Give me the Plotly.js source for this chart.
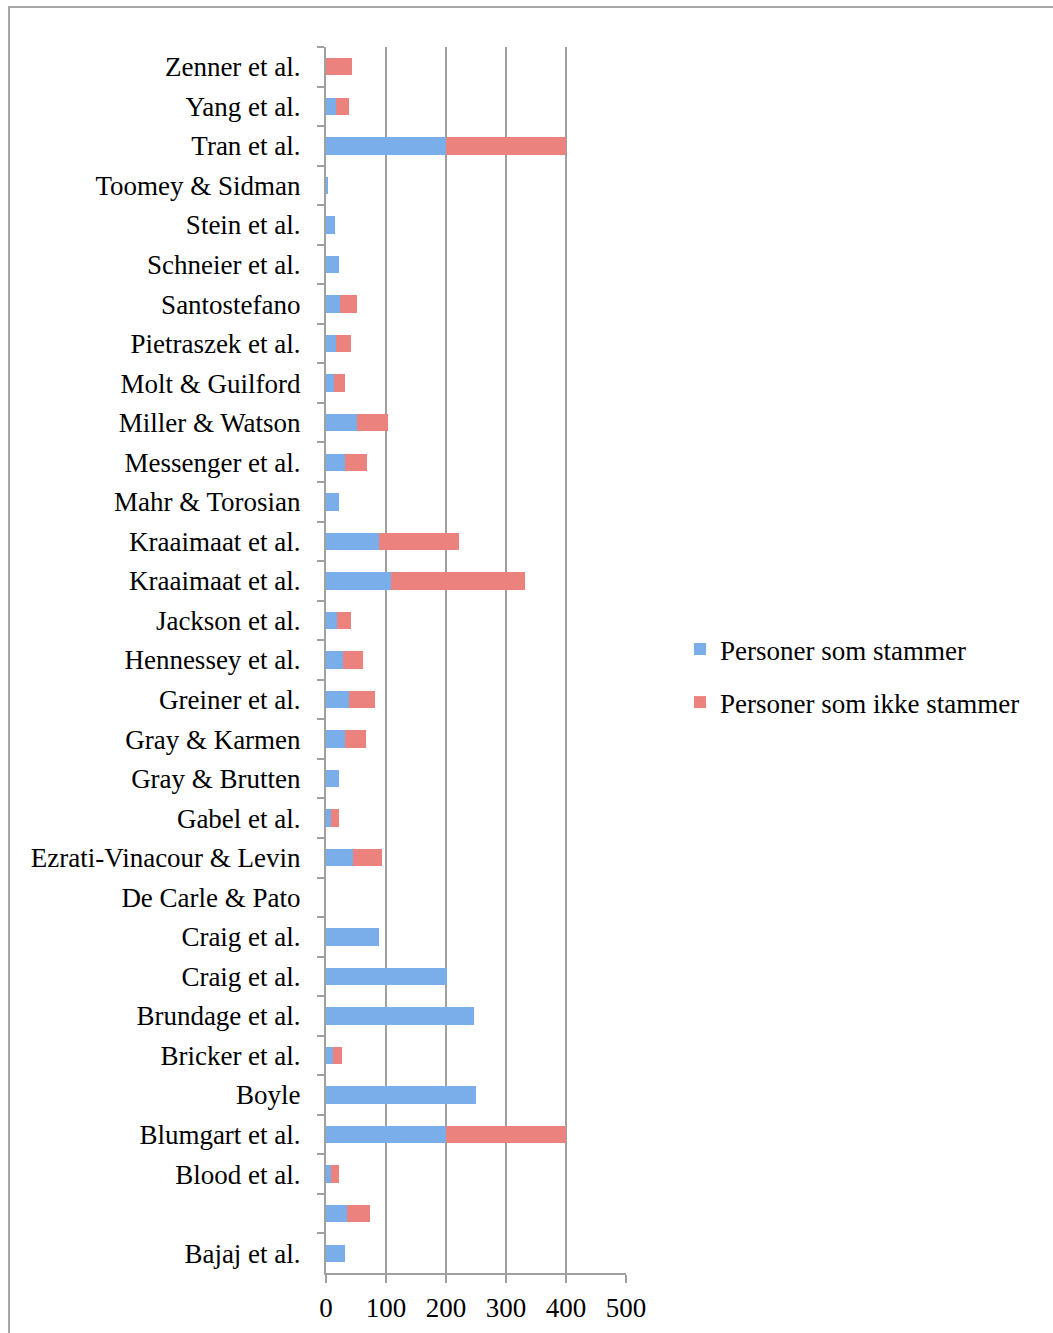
<!DOCTYPE html>
<html><head><meta charset="utf-8">
<script src="https://cdn.plot.ly/plotly-3.0.1.min.js"></script>
<style>
html,body{margin:0;padding:0;background:#fff;overflow:hidden;width:1053px;height:1333px;}
#frame{position:absolute;left:8px;top:6px;width:1200px;height:1500px;border:2px solid #a6a6a6;box-sizing:border-box;}
#chart{position:absolute;left:0;top:0;width:1053px;height:1333px;}
</style></head>
<body>
<div id="frame"></div>
<div id="chart"></div>
<script>
// Categories listed top to bottom (duplicates made distinct with invisible zero-width space)
const studies = [
  "Zenner et al.", "Yang et al.", "Tran et al.", "Toomey & Sidman", "Stein et al.",
  "Schneier et al.", "Santostefano", "Pietraszek et al.", "Molt & Guilford", "Miller & Watson",
  "Messenger et al.", "Mahr & Torosian", "Kraaimaat et al.", "Kraaimaat et al.\u200b", "Jackson et al.",
  "Hennessey et al.", "Greiner et al.", "Gray & Karmen", "Gray & Brutten", "Gabel et al.",
  "Ezrati-Vinacour & Levin", "De Carle & Pato", "Craig et al.", "Craig et al.\u200b", "Brundage et al.",
  "Bricker et al.", "Boyle", "Blumgart et al.", "Blood et al.", "\u00a0",
  "Bajaj et al."
];
const stammer = [
  0, 17, 200, 4, 15,
  22, 24, 17, 14, 51,
  32, 22, 88, 109, 18,
  28, 38, 32, 21, 9,
  45, 0, 88, 201, 247,
  11, 250, 200, 8, 35,
  31
];
const ikkeStammer = [
  44, 22, 200, 0, 0,
  0, 28, 24, 17, 53,
  36, 0, 134, 223, 23,
  34, 44, 34, 0, 12,
  49, 0, 0, 0, 0,
  15, 0, 200, 14, 38,
  0
];
const seriesNames = ["Personer som stammer", "Personer som ikke stammer"];
const xTicks = [0, 100, 200, 300, 400, 500];

const FONT = "Liberation Serif, Times New Roman, serif";
const FS = 27;
const traces = [
  {type:"bar", orientation:"h", name:seriesNames[0], y:studies, x:stammer,
   marker:{color:"#7aaeea"}, legendgroup:"a", hoverinfo:"x+y"},
  {type:"bar", orientation:"h", name:seriesNames[1], y:studies, x:ikkeStammer,
   marker:{color:"#ec827d"}, legendgroup:"b", hoverinfo:"x+y"}
];
const layout = {
  width:1053, height:1333,
  paper_bgcolor:"rgba(0,0,0,0)", plot_bgcolor:"rgba(0,0,0,0)",
  margin:{l:326, r:427, t:47, b:60, pad:0},
  barmode:"stack", bargap:0.56,
  font:{family:FONT, size:FS, color:"#000"},
  showlegend:true,
  legend:{x:1.18, xanchor:"left", y:0.487, yanchor:"middle", traceorder:"grouped",
          tracegroupgap:15, font:{family:FONT, size:FS, color:"#000"},
          itemwidth:30, bgcolor:"rgba(0,0,0,0)"},
  xaxis:{range:[0,500], tickvals:xTicks, ticktext:xTicks.map(String), showgrid:true,
         gridcolor:"#a0a0a0", gridwidth:2, zeroline:false, showline:true, linecolor:"#a0a0a0",
         linewidth:2, ticks:"outside", ticklen:8, tickwidth:2, tickcolor:"#a0a0a0",
         ticklabelstandoff:2, tickfont:{family:FONT, size:FS, color:"#000"}, fixedrange:true},
  yaxis:{type:"category", categoryorder:"array", categoryarray:studies, autorange:"reversed",
         showline:true, linecolor:"#a0a0a0", linewidth:2, ticks:"outside", tickson:"boundaries",
         ticklen:7, tickwidth:2, tickcolor:"#a0a0a0", showgrid:false, zeroline:false,
         ticklabelstandoff:18, tickfont:{family:FONT, size:FS, color:"#000"}, fixedrange:true}
};
Plotly.newPlot("chart", traces, layout, {displayModeBar:false, staticPlot:true});
</script>
</body></html>
